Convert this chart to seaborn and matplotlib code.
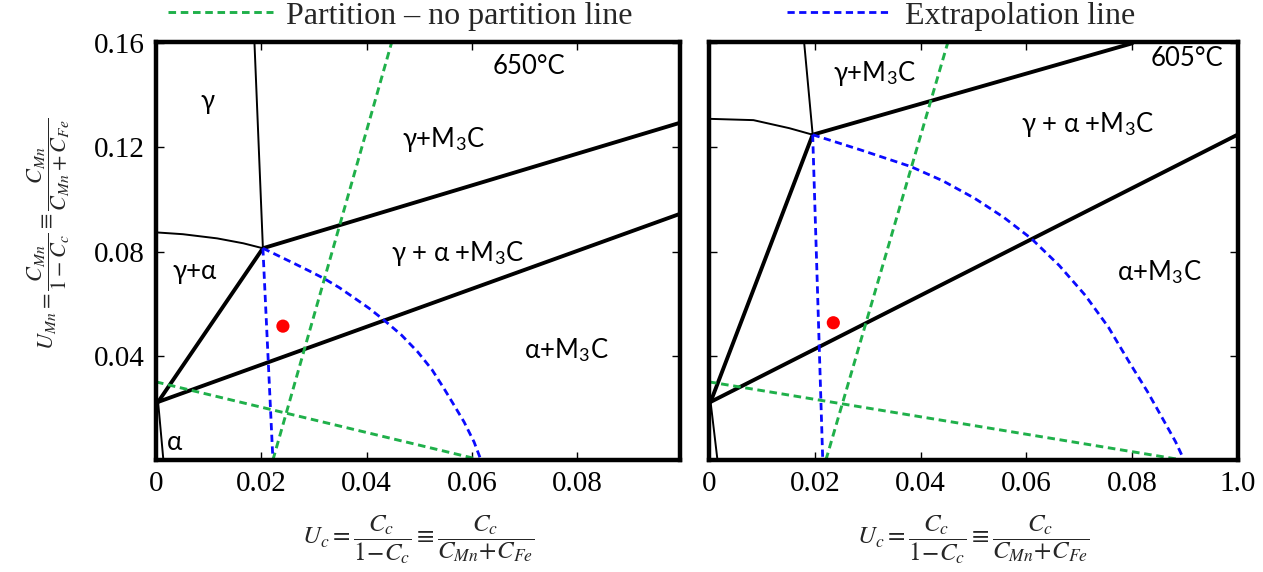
import matplotlib
matplotlib.use("Agg")
import matplotlib.pyplot as plt
from matplotlib.lines import Line2D
import seaborn as sns

# --- 650°C panel ---
L_GB_X = [0.0187, 0.0203]; L_GB_Y = [0.160, 0.0813]           # gamma | gamma+M3C (thin)
L_GA_X = [0.0, 0.0051, 0.0116, 0.0166, 0.0203]                # gamma | gamma+alpha (thin curve)
L_GA_Y = [0.0874, 0.0867, 0.0851, 0.0832, 0.0813]
L_UP_X = [0.0203, 0.0992]; L_UP_Y = [0.0813, 0.1293]           # thick upper boundary
L_LO_X = [0.0004, 0.0992]; L_LO_Y = [0.0223, 0.0943]           # thick lower boundary
L_TI_X = [0.0004, 0.0203]; L_TI_Y = [0.0223, 0.0813]           # thick gamma+alpha boundary
L_AL_X = [0.0004, 0.0014]; L_AL_Y = [0.0223, 0.0]              # alpha boundary (thin)
L_PS_X = [0.0222, 0.0447]; L_PS_Y = [0.0, 0.160]               # partition line, steep
L_PF_X = [0.0, 0.0617]; L_PF_Y = [0.030, 0.0]                  # partition line, flat
L_EV_X = [0.0203, 0.0222]; L_EV_Y = [0.0813, 0.0]              # extrapolation, near vertical
L_EA_X = [0.0203, 0.0262, 0.0290, 0.0319, 0.0348, 0.0376, 0.0405, 0.0433, 0.0466,
          0.0497, 0.0524, 0.0547, 0.0567, 0.0585, 0.0604, 0.0617]
L_EA_Y = [0.0813, 0.0755, 0.0727, 0.0697, 0.0662, 0.0623, 0.0582, 0.0537, 0.0480,
          0.0415, 0.0347, 0.0274, 0.0207, 0.0146, 0.0069, 0.0]
L_DOT_X = [0.0241]; L_DOT_Y = [0.0514]

# --- 605°C panel ---
R_GB_X = [0.0180, 0.0196]; R_GB_Y = [0.160, 0.1249]
R_GA_X = [0.0, 0.0084, 0.0152, 0.0196]
R_GA_Y = [0.131, 0.1305, 0.1274, 0.1249]
R_UP_X = [0.0196, 0.0800]; R_UP_Y = [0.1249, 0.160]
R_LO_X = [0.0003, 0.100]; R_LO_Y = [0.0223, 0.125]
R_TI_X = [0.0003, 0.0196]; R_TI_Y = [0.0223, 0.1249]
R_AL_X = [0.0003, 0.0016]; R_AL_Y = [0.0223, 0.0]
R_PS_X = [0.0221, 0.0451]; R_PS_Y = [0.0, 0.160]
R_PF_X = [0.0, 0.0895]; R_PF_Y = [0.030, 0.0]
R_EV_X = [0.0196, 0.0215]; R_EV_Y = [0.1249, 0.0]
R_EA_X = [0.0196, 0.0286, 0.0381, 0.0442, 0.0502, 0.0557, 0.0610, 0.0662, 0.0711,
          0.0755, 0.0794, 0.0829, 0.0860, 0.0882, 0.0898]
R_EA_Y = [0.1249, 0.1191, 0.1127, 0.1072, 0.1005, 0.0932, 0.0849, 0.0747, 0.0633,
          0.0510, 0.0377, 0.0262, 0.0150, 0.0070, 0.0]
R_DOT_X = [0.0235]; R_DOT_Y = [0.0527]

# region labels: (text, x, y)
L_LABELS = [("γ", 0.0097, 0.1377), ("650°C", 0.0709, 0.151),
            (r"γ+M$_\mathregular{3}$C", 0.0547, 0.123), ("γ+α", 0.0074, 0.0723),
            (r"γ + α +M$_\mathregular{3}$C", 0.0573, 0.0793),
            (r"α+M$_\mathregular{3}$C", 0.0779, 0.0422), ("α", 0.0036, 0.0069)]
R_LABELS = [(r"γ+M$_\mathregular{3}$C", 0.0314, 0.1485), ("605°C", 0.0903, 0.154),
            (r"γ + α +M$_\mathregular{3}$C", 0.0716, 0.129),
            (r"α+M$_\mathregular{3}$C", 0.0851, 0.0723)]

X_TICKS = [0, 0.02, 0.04, 0.06, 0.08]
X_TICK_LABELS = ["0", "0.02", "0.04", "0.06", "0.08"]
R_X_TICKS = [0, 0.02, 0.04, 0.06, 0.08, 0.10]
R_X_TICK_LABELS = ["0", "0.02", "0.04", "0.06", "0.08", "1.0"]
Y_TICKS = [0.04, 0.08, 0.12, 0.16]
Y_TICK_LABELS = ["0.04", "0.08", "0.12", "0.16"]

GREEN = "#1fb04a"
BLUE = "#0a0aff"
DASH = (0, (2.6, 1.6))

sns.set_theme(style="white")
plt.rcParams["font.family"] = ["Liberation Serif", "DejaVu Serif"]
plt.rcParams["mathtext.fontset"] = "stix"

fig = plt.figure(figsize=(12.63, 5.72), dpi=100)
ax1 = fig.add_axes([156 / 1263, 112 / 572, 524 / 1263, 418 / 572])
ax2 = fig.add_axes([709 / 1263, 112 / 572, 529 / 1263, 418 / 572])


def seg(ax, xs, ys, **kw):
    sns.lineplot(x=xs, y=ys, sort=False, estimator=None, legend=False, ax=ax, **kw)


panels = [
    (ax1, L_GB_X, L_GB_Y, L_GA_X, L_GA_Y, L_UP_X, L_UP_Y, L_LO_X, L_LO_Y, L_TI_X, L_TI_Y,
     L_AL_X, L_AL_Y, L_PS_X, L_PS_Y, L_PF_X, L_PF_Y, L_EV_X, L_EV_Y, L_EA_X, L_EA_Y,
     L_DOT_X, L_DOT_Y, L_LABELS),
    (ax2, R_GB_X, R_GB_Y, R_GA_X, R_GA_Y, R_UP_X, R_UP_Y, R_LO_X, R_LO_Y, R_TI_X, R_TI_Y,
     R_AL_X, R_AL_Y, R_PS_X, R_PS_Y, R_PF_X, R_PF_Y, R_EV_X, R_EV_Y, R_EA_X, R_EA_Y,
     R_DOT_X, R_DOT_Y, R_LABELS),
]

for ax, gbx, gby, gax, gay, upx, upy, lox, loy, tix, tiy, alx, aly, \
        psx, psy, pfx, pfy, evx, evy, eax, eay, dx, dy, labels in panels:
    # phase boundaries
    seg(ax, gbx, gby, color="black", lw=1.4)
    seg(ax, gax, gay, color="black", lw=1.4)
    seg(ax, alx, aly, color="black", lw=1.4)
    seg(ax, upx, upy, color="black", lw=2.8)
    seg(ax, lox, loy, color="black", lw=2.8)
    seg(ax, tix, tiy, color="black", lw=2.8)
    # partition / extrapolation lines
    seg(ax, psx, psy, color=GREEN, lw=2.1, linestyle=DASH)
    seg(ax, pfx, pfy, color=GREEN, lw=2.1, linestyle=DASH)
    seg(ax, evx, evy, color=BLUE, lw=2.0, linestyle=DASH)
    seg(ax, eax, eay, color=BLUE, lw=2.0, linestyle=DASH)
    sns.scatterplot(x=dx, y=dy, color="red", s=90, edgecolor="none", zorder=5,
                    legend=False, ax=ax)

    for txt, tx, ty in labels:
        ax.text(tx, ty, txt, ha="center", va="center", fontsize=18.5,
                family=["Lato", "Noto Sans", "DejaVu Sans"], color="black")

    ax.set_ylim(0, 0.1605)
    ax.set_yticks(Y_TICKS)
    for s in ax.spines.values():
        s.set_linewidth(3.2)
        s.set_color("black")
    ax.tick_params(direction="in", top=True, right=True, bottom=True, left=True,
                   length=6, width=1, colors="black", labelsize=21, pad=8)
    ax.set_xlabel(r"$U_c=\dfrac{C_c}{1\!-\!C_c}\equiv\dfrac{C_c}{C_{Mn}\!+\!C_{Fe}}$",
                  fontsize=18, labelpad=12)
    if ax.get_legend() is not None:
        ax.get_legend().remove()

ax1.set_xlim(0, 0.0995)
ax1.set_xticks(X_TICKS)
ax1.set_xticklabels(X_TICK_LABELS)
ax1.set_yticklabels(Y_TICK_LABELS)
ax1.set_ylabel(r"$U_{Mn}=\dfrac{C_{Mn}}{1-C_c}\equiv\dfrac{C_{Mn}}{C_{Mn}+C_{Fe}}$",
               fontsize=16)
ax1.yaxis.set_label_coords(-0.16, 0.54)

ax2.set_xlim(0, 0.1)
ax2.set_xticks(R_X_TICKS)
ax2.set_xticklabels(R_X_TICK_LABELS)
ax2.tick_params(labelleft=False)

# legend on top, two entries placed where the picture has them
h_green = Line2D([], [], color=GREEN, lw=2.1, linestyle=DASH)
h_blue = Line2D([], [], color=BLUE, lw=2.0, linestyle=DASH)
leg_kw = dict(loc="center left", frameon=False, fontsize=23, handlelength=3.3,
              handletextpad=0.4, borderpad=0, borderaxespad=0)
fig.legend([h_green], ["Partition \u2013 no partition line"],
           bbox_to_anchor=(168 / 1263, 1 - 16 / 572), **leg_kw)
fig.legend([h_blue], ["Extrapolation line"],
           bbox_to_anchor=(787 / 1263, 1 - 16 / 572), **leg_kw)

fig.savefig("out.png", dpi=100)
